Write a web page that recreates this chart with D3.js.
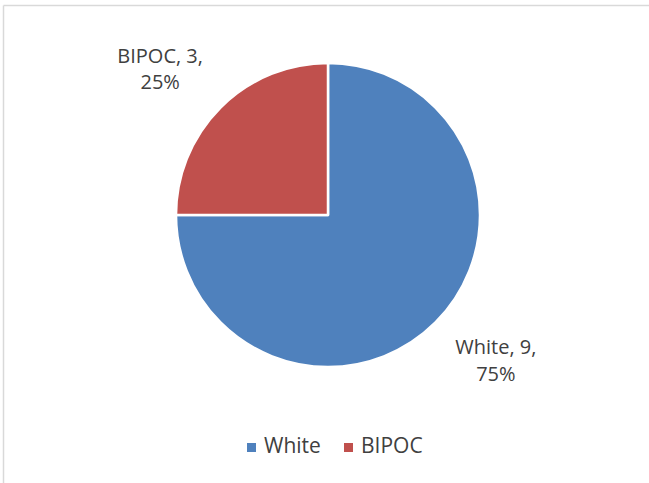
<!DOCTYPE html>
<html>
<head>
<meta charset="utf-8">
<script src="https://cdn.jsdelivr.net/npm/d3@7"></script>
<style>
  body { margin: 0; background: #fff; }
  text { font-family: "Open Sans", "Noto Sans", sans-serif; fill: #404040; }
</style>
</head>
<body>
<div id="chart-container"></div>
<script>
// pie chart, two slices, labels outside
const svgWidth = 649;
const svgHeight = 483;

const categories = ["White", "BIPOC"];
const counts = [9, 3];
const percents = ["75%", "25%"];
const colors = ["#4f81bd", "#c0504d"];

const cx = 328, cy = 215, radius = 152;

const svg = d3.select("#chart-container")
    .append("svg")
    .attr("width", svgWidth)
    .attr("height", svgHeight);

// chart border (only top and left show in the picture)
svg.append("line")
    .attr("x1", 3.5).attr("y1", 5.5)
    .attr("x2", svgWidth).attr("y2", 5.5)
    .attr("stroke", "#d9d9d9").attr("stroke-width", 1.5);
svg.append("line")
    .attr("x1", 3.5).attr("y1", 5.5)
    .attr("x2", 3.5).attr("y2", svgHeight)
    .attr("stroke", "#d9d9d9").attr("stroke-width", 1.5);

const data = categories.map((c, i) => ({ name: c, value: counts[i], pct: percents[i], color: colors[i] }));

const pie = d3.pie()
    .value(d => d.value)
    .sort(null);

const arc = d3.arc()
    .innerRadius(0)
    .outerRadius(radius);

const g = svg.append("g")
    .attr("transform", `translate(${cx},${cy})`);

g.selectAll("path")
    .data(pie(data))
    .enter()
    .append("path")
    .attr("d", arc)
    .attr("fill", d => d.data.color)
    .attr("stroke", "#fff")
    .attr("stroke-width", 2.5)
    .attr("stroke-linejoin", "round");

// data labels outside the pie
const labelArc = d3.arc()
    .innerRadius(radius * 1.45)
    .outerRadius(radius * 1.45);

function labelPos(d) {
    const c = labelArc.centroid(d);
    // push a bit sideways, like excel does
    return [c[0] + Math.sign(c[0]) * 12, c[1] - Math.sign(c[1]) * 10];
}

const labels = g.selectAll(".label")
    .data(pie(data))
    .enter()
    .append("text")
    .attr("class", "label")
    .attr("text-anchor", "middle")
    .attr("font-size", 20)
    .attr("transform", d => `translate(${labelPos(d)})`);

labels.append("tspan")
    .attr("x", 0)
    .attr("y", -6.5)
    .text(d => `${d.data.name}, ${d.data.value},`);
labels.append("tspan")
    .attr("x", 0)
    .attr("dy", 26.5)
    .text(d => d.data.pct);

// legend
const legendX = [247, 344];
const legend = svg.selectAll(".legend")
    .data(data)
    .enter()
    .append("g")
    .attr("class", "legend")
    .attr("transform", (d, i) => `translate(${legendX[i]}, 443)`);

legend.append("rect")
    .attr("x", 0).attr("y", 0)
    .attr("width", 9).attr("height", 9)
    .attr("fill", d => d.color);

legend.append("text")
    .attr("x", 17)
    .attr("y", 10)
    .attr("font-size", 21)
    .text(d => d.name);
</script>
</body>
</html>
